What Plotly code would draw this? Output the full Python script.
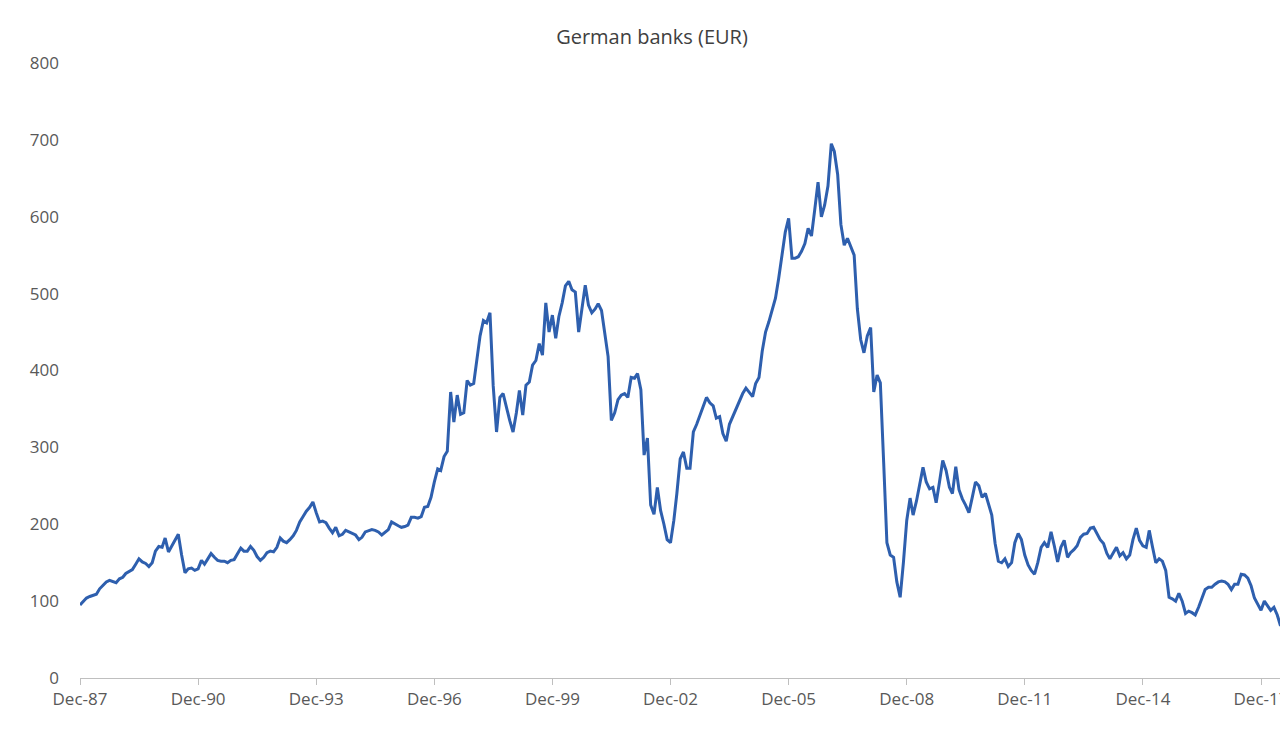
import pandas as pd
import plotly.graph_objects as go

start_month = "1987-12-31"
values = [
    95, 100, 104, 106, 107, 109, 116, 121, 125, 127, 125, 124,
    129, 131, 136, 139, 141, 148, 155, 151, 149, 145, 150, 165,
    171, 170, 182, 164, 172, 180, 187, 160, 137, 142, 143, 140,
    142, 153, 148, 155, 162, 157, 153, 152, 152, 150, 153, 154,
    162, 169, 165, 165, 171, 166, 158, 153, 157, 163, 165, 164,
    170, 182, 178, 176, 180, 185, 192, 203, 210, 217, 222, 229,
    215, 203, 204, 202, 195, 189, 196, 185, 187, 192, 190, 188,
    186, 180, 183, 190, 192, 193, 192, 190, 186, 190, 193, 203,
    200, 198, 196, 197, 199, 209, 209, 208, 210, 222, 223, 235,
    255, 272, 270, 288, 295, 372, 333, 368, 343, 345, 387, 381,
    383, 418, 445, 465, 462, 475, 380, 320, 365, 370, 350, 335,
    320, 345, 374, 342, 381, 385, 407, 413, 435, 420, 488, 450,
    472, 442, 470, 488, 510, 516, 505, 502, 450, 480, 511, 485,
    475, 480, 487, 478, 450, 418, 335, 345, 362, 368, 370, 365,
    391, 390, 396, 375, 290, 312, 225, 213, 248, 218, 200, 180,
    176, 205, 240, 285, 294, 273, 273, 320, 330, 342, 352, 365,
    358, 354, 338, 340, 318, 308, 330, 340, 352, 360, 370, 377,
    372, 366, 383, 391, 425, 450, 463, 480, 494, 520, 550, 580,
    598, 546, 546, 548, 555, 565, 585, 575, 610, 645, 600, 615,
    640, 695, 685, 655, 590, 563, 572, 560, 550, 480, 440, 423,
    445, 456, 372, 394, 384, 280, 176, 160, 157, 125, 105, 150,
    205, 234, 212, 230, 250, 274, 255, 246, 248, 228, 255, 283,
    270, 248, 240, 275, 245, 233, 225, 215, 235, 255, 250, 235,
    240, 225, 212, 175, 152, 150, 155, 145, 150, 176, 188, 180,
    160, 147, 140, 135, 150, 170, 176, 170, 190, 172, 151, 170,
    179, 157, 163, 167, 172, 183, 187, 188, 195, 196, 188, 180,
    175, 162, 155, 163, 170, 159, 163, 155, 160, 180, 195, 179,
    172, 170, 192, 170, 150, 155, 152, 140, 105, 103, 100, 110,
    100, 84, 87, 85, 82, 92, 104, 115, 118, 118, 122, 125,
    126, 125, 122, 115, 122, 122, 135, 134, 130, 120, 104, 95,
    88, 100, 95, 88, 92, 82, 68, 75,
]
dates = pd.date_range(start_month, periods=len(values), freq="ME")

tick_dates = ["1987-12-31", "1990-12-31", "1993-12-31", "1996-12-31", "1999-12-31",
              "2002-12-31", "2005-12-31", "2008-12-31", "2011-12-31", "2014-12-31", "2017-12-31"]
tick_labels = ["Dec-87", "Dec-90", "Dec-93", "Dec-96", "Dec-99", "Dec-02",
               "Dec-05", "Dec-08", "Dec-11", "Dec-14", "Dec-17"]
y_ticks = [0, 100, 200, 300, 400, 500, 600, 700, 800]

fig = go.Figure(go.Scatter(x=dates, y=values, mode="lines",
                           line=dict(color="#2E5FAE", width=3)))
fig.update_layout(
    width=1288, height=735,
    paper_bgcolor="white", plot_bgcolor="white",
    margin=dict(l=72, r=10, t=55, b=65),
    showlegend=False,
    font=dict(family="Open Sans, Liberation Sans, sans-serif", color="#595959", size=17),
    title=dict(text="German banks (EUR)", x=0.5, xanchor="center", y=0.96, yanchor="middle",
               font=dict(size=20, color="#404040")),
)
fig.update_xaxes(type="date", range=["1987-12-31", "2018-08-20"], automargin=False,
                 tickvals=tick_dates, ticktext=tick_labels,
                 showgrid=False, showline=True, linecolor="#BFBFBF", linewidth=1,
                 ticks="outside", tickcolor="#BFBFBF", ticklen=6, zeroline=False)
fig.update_yaxes(range=[0, 800], tickvals=y_ticks, showgrid=False, zeroline=False,
                 automargin=False, ticks="", ticklabelstandoff=20)
fig.write_html("out.html")
